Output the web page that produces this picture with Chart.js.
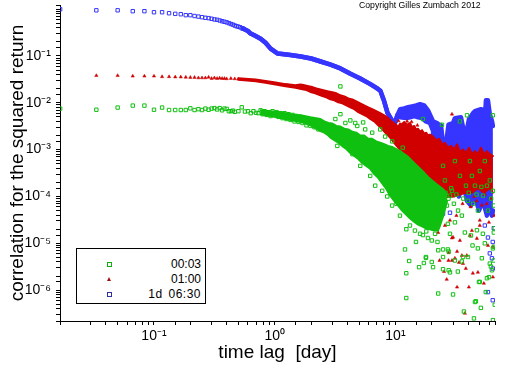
<!DOCTYPE html>
<html>
<head>
<meta charset="utf-8">
<script src="https://cdn.jsdelivr.net/npm/chart.js@4.4.1/dist/chart.umd.min.js"></script>
<style>
  body { margin: 0; background: #fff; }
  #wrap { position: relative; width: 512px; height: 366px; font-family: "Liberation Sans", Arial, sans-serif; }
  #copyright { position: absolute; left: 359px; top: 0px; font-size: 8.7px; color: #000; white-space: nowrap; }
  #legend { position: absolute; left: 76px; top: 248px; width: 128px; height: 54px; border: 1px solid #000; background: #fff; font-size: 12px; }
  #legend .row { position: absolute; left: 0; width: 124px; height: 15px; line-height: 15px; text-align: right; }
  #legend .mark { position: absolute; left: 30px; top: 5px; }
  .sq { width: 3px; height: 3px; border: 1px solid; }
  .tri { width: 0; height: 0; border-left: 2px solid transparent; border-right: 2px solid transparent; border-bottom: 4px solid #a01010; }
</style>
</head>
<body>
<div id="wrap">
  <canvas id="chart" width="512" height="366"></canvas>
  <div id="copyright">Copyright Gilles Zumbach 2012</div>
  <div id="legend">
    <div class="row" style="top:8px"><span class="mark sq" style="border-color:#10b010"></span>00:03</div>
    <div class="row" style="top:23px"><span class="mark tri"></span>01:00</div>
    <div class="row" style="top:38px; word-spacing:2px; letter-spacing:0.5px"><span class="mark sq" style="border-color:#3030a0"></span>1d 06:30</div>
  </div>
</div>
<script>
// axis ranges and tick labels
const xRange = [0.01665, 66.8];
const yRange = [2.2e-7, 1.22];
const xTickValues = [0.1, 1, 10];
const xTickLabels = ['10⁻¹', '10⁰', '10¹'];
const yTickValues = [1e-1, 1e-2, 1e-3, 1e-4, 1e-5, 1e-6];
const yTickLabels = ['10⁻¹', '10⁻²', '10⁻³', '10⁻⁴', '10⁻⁵', '10⁻⁶'];

// 00:03 (green squares), [lag in days, correlation]
const greenPoints = [
  [0.0167,0.0075],[0.0333,0.0071],[0.05,0.0079],[0.0667,0.0087],[0.0833,0.0087],[0.1,0.0071],
  [0.1167,0.0079],[0.1333,0.0070],[0.15,0.0070],[0.1667,0.0070],[0.1833,0.0070],[0.2,0.0076],
  [0.2167,0.0070],[0.2333,0.0073],[0.25,0.0070],[0.2667,0.0075],[0.2833,0.0071],[0.3,0.0075],
  [0.3167,0.0077],[0.3333,0.0072],[0.35,0.0077],[0.3667,0.0069],[0.3833,0.0075],[0.4,0.0074],
  [0.4167,0.0066],[0.4333,0.0066],[0.45,0.0068],[0.4667,0.0064],[0.5,0.0066],[0.5333,0.0080],
  [0.5667,0.0065],[0.6,0.0066],[0.6333,0.0060],[0.6667,0.0066],[0.7,0.0061],[0.7333,0.0060],
  [0.764,0.0069],[0.794,0.0057],[0.824,0.0066],[0.856,0.0055],[0.889,0.0063],[0.924,0.0052],
  [0.96,0.0066],[0.997,0.0055],[1.036,0.0063],[1.076,0.0050],[1.117,0.0060],[1.161,0.0047],
  [1.206,0.0060],[1.252,0.0045],[1.301,0.0057],[1.352,0.0043],[1.404,0.0055],[1.458,0.0040],
  [1.515,0.0052],[1.574,0.0039],[1.635,0.0050],[1.698,0.0037],[1.764,0.0047],[1.833,0.0033],
  [1.904,0.0045],[1.977,0.0032],[2.054,0.0043],[2.134,0.0030],[2.217,0.0039],[2.303,0.0027],
  [2.39,0.0037],
  [3.5,0.0223],[3.5,0.0057],[4.23,0.0042],[4.65,0.0037],[5.4,0.0038],[7.48,0.0027],[11.5,0.0011],
  [16.9,0.0045],[24.3,0.0034],[34.2,0.0040],[39.2,0.0054],[64,0.0054],[3.85,0.0037],[3.18,0.0045],
  [5.62,0.0027],[6.42,0.0023],[8.22,0.0019],[9.39,0.0015],[4.83,0.0032],
  [5.11,4.5e-4],[6.18,2.75e-4],[6.8,1.7e-4],[7.77,1.32e-4],[8.55,1.0e-4],[9.39,6.4e-5],
  [10.2,7e-5],[10.9,3.9e-5],[13.2,2.4e-5],[14.5,1.87e-5],
  [12.0,7.4e-6],[13.0,4.2e-6],[12.3,2.3e-6],[12.3,6.8e-7],[14.8,1.07e-5],[17.9,5.1e-6],
  [15.7,3.1e-6],[20.5,3.1e-6],[22.6,8.5e-7],[30,8.1e-7],[24.8,7.4e-6],[22.6,7.1e-6],
  [27.6,6.7e-6],[31.1,4.3e-6],[27.6,2.66e-6],[32.9,2.5e-6],[36.3,5.1e-6],[50,1.5e-6],
  [46.4,5.8e-7],[51,4.2e-7],[36.9,3.5e-7],[44.7,2.5e-7],[64.2,2.3e-7],[66.5,4.9e-7],
  [59.5,1.9e-6],[61.8,3.2e-6],[65.3,8.4e-6],[66.5,2.1e-5],[53,1.6e-5],[47.3,1.9e-5],
  [21.3,1.6e-5],[18.6,1.3e-5],[12.3,2e-5],[16,1.6e-5],[18.0,1.8e-5],[20,1.15e-5],
  [16.9,1.5e-5],[22.3,1.07e-5],[27.2,7.4e-6],[24.8,5.1e-6],[17.9,4.9e-6],[20,4e-6],
  [17.2,3.8e-6],[24.8,2.8e-6],[28.3,2.4e-6],[35.5,4.1e-6],[45.6,5.6e-7],[56,9.1e-7],
  [57.3,1.8e-6],[63,2.66e-6],[60.5,3.7e-6],[65.3,4.3e-6],[64.2,7.8e-6],[65.3,1.7e-5],
  [55,1e-5],[49.2,1.5e-6],[52,4.8e-6],[39.9,5.1e-6],[48.2,7.8e-6],[43.5,9e-6],
  [42.2,1.47e-5],[37.6,1.7e-5],[28.3,1.6e-5],[31.1,2.8e-5],[27.2,2.6e-5],
  [25.7,2.2e-4],[29.4,1.32e-4],[34.2,2.75e-4],[39.9,8.1e-5],[45.6,1.7e-4],[53.1,1.04e-4],
  [60.5,2.2e-4],[26.7,6.4e-5],[33.0,5e-5],[38.4,1.7e-4],[50,3.5e-4],[58.4,5e-5],
  [64.2,1.32e-4],[24.8,4.5e-4],[41.4,5.7e-4],[55,5.7e-4],[31.1,5.7e-4],[35.5,3.9e-5],
  [48.2,5e-5],[65.3,6.4e-5],[28.3,1.04e-4],[43,2.75e-4],[57.3,1.7e-4],
  [3.3,0.0012],[4.4,0.0008],[5.8,0.00055],[7.0,0.00036],[8.0,0.00021],[9.0,0.00016],
  [10.5,0.000085],[11.6,0.000062],[12.6,0.000052],[19.0,0.000028],[21.0,0.000026],
  [26,0.00012],[27.5,0.00009],[29,0.00015],[30.5,0.00007],[32,0.00011],[25,0.00006],
  [36.5,0.00009],[40.5,0.00012],[44,0.00007],[47,0.00011],[51.5,0.00016],[62,0.00009]
];
// 00:03 dense cloud: upper and lower edge
const greenUpper = [
  [0.764,0.0069],[0.924,0.0066],[1.117,0.0063],[1.352,0.0057],[1.635,0.0054],[1.977,0.0049],
  [2.39,0.0045],[2.579,0.0040],[2.783,0.0037],[3.003,0.0036],[3.24,0.0032],[3.5,0.0031],
  [3.773,0.0028],[4.07,0.0027],[4.394,0.0024],[4.742,0.0023],[5.11,0.0020],[5.51,0.0020],
  [5.95,0.0017],[6.42,0.0017],[6.93,0.0015],[7.48,0.0014],[8.07,0.0013],[8.71,0.0012],
  [9.39,0.00114],[10.14,0.00103],[10.94,0.00093],[11.8,0.000805],[12.74,0.0007],[13.74,0.00057],
  [14.83,0.00047],[16.0,0.00039],[17.3,0.00032],[18.6,0.00026],[20.1,0.00022],[21.7,0.000186],
  [23.4,0.00016],[25.0,0.00014],[26.8,0.00011]
];
const greenLower = [
  [0.764,0.0057],[0.924,0.0052],[1.117,0.0047],[1.352,0.0043],[1.635,0.0039],[1.977,0.0033],
  [2.39,0.0025],[2.579,0.0023],[2.783,0.0020],[2.89,0.0018],[3.119,0.0016],[3.366,0.0014],
  [3.632,0.00119],[3.92,0.00103],[4.23,0.00085],[4.565,0.00073],[4.926,0.00063],[5.31,0.00052],
  [5.73,0.00045],[6.18,0.00039],[6.67,0.00030],[7.2,0.00025],[7.77,0.00019],[8.38,0.000146],
  [9.04,0.000104],[9.76,0.000081],[10.53,0.000064],[11.36,0.00005],[12.26,0.000041],[13.23,0.000034],
  [14.28,0.000029],[15.41,0.000025],[16.6,0.000023],[17.9,0.000021],[19.3,0.00002],[20.9,0.0000187],
  [22.5,0.0000187],[23.4,0.000024],[25.0,0.00004],[26.8,0.00008]
];

// 01:00 (red triangles)
const redPoints = [
  [0.0333,0.038],[0.05,0.038],[0.0667,0.037],[0.0833,0.037],[0.1,0.037],[0.1167,0.036],
  [0.1333,0.036],[0.15,0.0355],[0.1667,0.0355],[0.1833,0.035],[0.2,0.0347],[0.2167,0.0347],
  [0.2333,0.034],[0.25,0.034],[0.2667,0.034],[0.2833,0.035],[0.3,0.033],[0.3167,0.034],
  [0.3333,0.033],[0.35,0.0335],[0.3667,0.033],[0.3833,0.033],[0.4,0.0325],[0.4333,0.033],
  [0.4667,0.0325],[0.5,0.032],
  [11.4,0.0035],[12.5,0.004],[29.4,0.0057],[10.6,0.0041],[13.6,0.0039],[15.2,0.0033],
  [22.6,1.7e-5],[25.3,2.5e-6],[26.6,1.7e-6],[27.6,6.3e-6],[29.4,1.3e-5],[29.4,4.3e-6],
  [31.1,4.8e-6],[32.4,6.7e-6],[32.4,1.16e-6],[33.6,3.9e-6],[34.2,1.15e-5],[35.5,5.5e-6],
  [36.3,3.7e-6],[37.6,3.2e-7],[38.3,2.9e-6],[39.0,5.5e-6],[40.6,1.16e-6],[41.4,1.47e-5],
  [43.0,1.87e-5],[43.8,2.3e-6],[47.3,1.27e-5],[48.2,2.4e-6],[50.0,2.4e-5],[54.0,1.4e-6],
  [58.4,9e-6],[64.2,8.5e-6],[64.2,1.9e-6],[30,1.35e-5],[23.2,4.3e-6],[27.5,4.3e-6],
  [25.7,2.4e-5],[22.0,3.9e-5],[28.3,3.1e-5],[32.0,3.9e-5],[50,3.1e-5],[59.5,2.8e-5],[66,3.9e-5],
  [36,7e-5],[42,6e-5],[47,8e-5],[52,6.5e-5],[57,7e-5],[62,9e-5],[45,1e-4],[55,1.1e-4]
];
// 01:00 dense band: upper and lower edge
const redUpper = [
  [0.5,0.0332],[0.695,0.0312],[0.84,0.0292],[1.016,0.027],[1.229,0.025],[1.486,0.0236],
  [1.635,0.0246],[1.764,0.0236],[1.904,0.0226],[2.054,0.0216],[2.217,0.0202],[2.39,0.0193],
  [2.579,0.0184],[2.783,0.0175],[3.003,0.0167],[3.24,0.0159],[3.5,0.0144],[3.773,0.0137],
  [4.07,0.0124],[4.394,0.0118],[4.742,0.0107],[5.11,0.0097],[5.51,0.0088],[5.95,0.008],
  [6.42,0.0073],[6.93,0.0066],[7.48,0.006],[8.07,0.0054],[8.71,0.0047],[9.39,0.0039],
  [10.14,0.0034],[10.53,0.0030],[10.94,0.0036],[11.4,0.0033],[11.8,0.0039],[12.5,0.0034],
  [13.2,0.0037],[13.74,0.0030],[14.3,0.0032],[14.83,0.0027],[15.4,0.0028],[16.0,0.0024],
  [16.6,0.0026],[17.3,0.0022],[18.0,0.0023],[18.6,0.0020],[19.3,0.0021],[20.5,0.0019],
  [21.7,0.0016],[23.0,0.0017],[24.3,0.0013],[25.7,0.0014],[27.2,0.0011],[28.9,0.0012],
  [30.6,0.0010],[32.4,0.0013],[34.2,0.0009],[36.3,0.001],[38.4,0.00085],[40.7,0.0011],
  [43.0,0.0008],[45.6,0.00093],[48.2,0.0008],[51.1,0.0011],[54.1,0.0008],[57.3,0.00093],
  [60.5,0.0008],[64.2,0.00073]
];
const redLower = [
  [0.5,0.0308],[0.695,0.0288],[0.84,0.0268],[1.016,0.0246],[1.229,0.0226],[1.486,0.0208],
  [1.698,0.0193],[1.833,0.0186],[1.977,0.0170],[2.134,0.0161],[2.303,0.0150],[2.483,0.0139],
  [2.679,0.013],[2.89,0.0118],[3.119,0.0113],[3.366,0.0102],[3.632,0.0097],[3.92,0.0088],
  [4.23,0.008],[4.565,0.0073],[4.926,0.0063],[5.31,0.0057],[5.73,0.0052],[6.18,0.0045],
  [6.67,0.004],[7.2,0.0033],[7.77,0.0027],[8.38,0.0022],[9.04,0.0018],[9.76,0.0014],
  [10.53,0.0011],[11.36,0.00093],[12.26,0.00073],[13.23,0.00057],[14.28,0.00043],[15.41,0.00032],
  [16.6,0.00024],[17.9,0.0002],[19.3,0.00017],[21.7,0.000132],[24.3,0.000114],[27.2,0.000097],
  [30.6,0.0001],[34.2,0.00011],[38.4,0.00012],[43.0,0.00012],[48.2,0.00015],[54.1,0.00012],
  [60.5,0.00015],[64.2,0.00012]
];

// 1d 06:30 (blue squares)
const bluePoints = [
  [0.0167,0.99],[0.0333,0.94],[0.05,0.94],[0.0667,0.90],[0.0833,0.90],[0.1,0.855],
  [0.1167,0.855],[0.1333,0.815],[0.15,0.79],[0.1667,0.775],[0.1833,0.74],[0.2,0.74],
  [0.2167,0.71],[0.2333,0.69],[0.25,0.67],[0.2667,0.65],[0.2833,0.64],[0.3,0.62],
  [0.3167,0.60],[0.3333,0.59],[0.35,0.57],[0.3667,0.55],[0.3833,0.535],[0.4,0.52],
  [0.4167,0.50],[0.4333,0.48],[0.45,0.465],[0.4667,0.445],[0.4833,0.43],[0.5,0.42],
  [0.5167,0.41],[0.5333,0.39],[0.55,0.38],
  [21.8,5.8e-5],[24.8,4.3e-5],[28.3,4.5e-5],[35.6,1.86e-4],[58.4,1.33e-5],[64,1.07e-5],
  [63,4.8e-6],[60.5,6.1e-6],[64,2.9e-6],[58.4,9.1e-7],[64,6.1e-7],[55,2.4e-5],[65.3,2.1e-5]
];
// 1d 06:30 dense band: upper and lower edge
const blueUpper = [
  [0.55,0.38],[0.6,0.34],[0.632,0.30],[0.695,0.265],[0.764,0.232],[0.84,0.19],[0.924,0.143],
  [1.06,0.112],[1.35,0.104],[1.64,0.097],[2.0,0.088],[2.4,0.076],[2.9,0.065],[3.5,0.054],
  [4.2,0.042],[5.1,0.033],[6.2,0.025],[7.0,0.0205],[7.5,0.018],[8.0,0.0115],[8.6,0.0061],
  [9.3,0.0043],[9.9,0.0037],[10.4,0.0055],[10.94,0.0073],[11.8,0.0076],[12.74,0.0080],
  [13.74,0.0084],[14.83,0.0088],[16.0,0.0093],[17.3,0.0088],[18.6,0.0069],[20.5,0.0040],
  [22.1,0.0037],[23.0,0.0034],[23.85,0.0033],[24.6,0.0016],[25.7,0.0011],[26.5,0.0016],
  [27.5,0.0034],[29.98,0.0037],[31.1,0.0047],[34.9,0.0049],[36.3,0.0030],[38.4,0.0021],
  [40.7,0.0045],[43.9,0.0060],[45.6,0.0066],[51.1,0.0073],[53.1,0.0070],[54.6,0.0032],
  [56.2,0.0113],[58.4,0.0113],[60.5,0.0057],[63,0.0041],[64.2,0.0032]
];
const blueLower = [
  [0.55,0.38],[0.6,0.34],[0.632,0.30],[0.695,0.265],[0.764,0.232],[0.84,0.19],[0.924,0.143],
  [1.06,0.112],[1.35,0.104],[1.64,0.097],[2.0,0.088],[2.4,0.076],[2.9,0.065],[3.5,0.054],
  [4.2,0.042],[5.1,0.033],[6.2,0.025],[7.0,0.0205],[7.5,0.018],[8.0,0.0115],[8.6,0.0061],
  [9.3,0.0043],[9.9,0.0037],[10.4,0.0055],[10.94,0.0049],[12.26,0.0047],[13.23,0.0049],
  [14.28,0.0052],[15.41,0.0049],[16.6,0.0047],[17.9,0.0040],[19.3,0.0037],[20.5,0.0025],
  [21.3,2.75e-4],[23,1.7e-4],[25,3.5e-4],[27,2.2e-4],[29,1.3e-4],[31.1,2.75e-4],
  [33.6,1.0e-4],[36.3,2.2e-4],[39.1,8.1e-5],[42.2,6.4e-5],[45.6,1.0e-4],[49.2,5e-5],
  [53.1,8.1e-5],[57.3,3.9e-5],[59.5,6.4e-5],[63.0,3.9e-5],[64.2,5e-5]
];

const green = '#10c010';
const red = '#d00000';
const blue = '#3535ff';
const family = '"Liberation Sans", Arial, sans-serif';

const toXY = (pts) => pts.map(([x, y]) => ({ x, y }));

function tickLabel(values, labels) {
  return (v) => {
    const i = values.findIndex((t) => Math.abs(Math.log10(v) - Math.log10(t)) < 1e-6);
    return i < 0 ? '' : labels[i];
  };
}

function markers(data, color, style, radius, filled) {
  return {
    data: toXY(data), showLine: false, pointStyle: style, pointRadius: radius,
    pointBorderWidth: filled ? 0.5 : 1, borderColor: color,
    backgroundColor: filled ? color : 'rgba(0,0,0,0)'
  };
}

// edge of a dense band; the upper edge fills down to the next dataset
function edge(data, color, width, fillDown) {
  return {
    data: toXY(data), showLine: true, pointRadius: 0, borderColor: color,
    backgroundColor: color, fill: fillDown ? '+1' : false,
    borderWidth: width, borderJoinStyle: 'round', borderCapStyle: 'round', tension: 0
  };
}

const axisBase = {
  type: 'logarithmic',
  border: { display: true, color: '#000', width: 1 },
  grid: { drawOnChartArea: false, drawTicks: true, tickLength: 4, color: '#000' }
};

// empty tick labels still reserve room at the axis ends; drop that
function noEndPadding(s) {
  s.paddingTop = 0; s.paddingBottom = 0; s.paddingLeft = 0; s.paddingRight = 0;
}

new Chart(document.getElementById('chart'), {
  type: 'scatter',
  data: {
    datasets: [
      markers(greenPoints, green, 'rect', 2.4, false),
      edge(greenUpper, green, 2, true),
      edge(greenLower, green, 2, false),
      markers(redPoints, red, 'triangle', 1.9, true),
      edge(redUpper, red, 2, true),
      edge(redLower, red, 2, false),
      markers(bluePoints, blue, 'rect', 2.4, false),
      edge(blueUpper, blue, 4.5, true),
      edge(blueLower, blue, 4.5, false)
    ]
  },
  options: {
    responsive: false,
    animation: false,
    layout: { padding: { top: 3, right: 17, left: 0, bottom: 0 } },
    plugins: { legend: { display: false }, tooltip: { enabled: false }, filler: { propagate: false } },
    scales: {
      x: {
        ...axisBase,
        position: 'bottom',
        min: xRange[0], max: xRange[1],
        afterFit: (s) => { s.height = 45; noEndPadding(s); },
        ticks: { autoSkip: false, maxRotation: 0, padding: 3, color: '#000',
                 font: { size: 14, family }, callback: tickLabel(xTickValues, xTickLabels) },
        title: { display: true, text: 'time lag  [day]', color: '#000',
                 font: { size: 19, family }, padding: { top: 0, bottom: 2 } }
      },
      y: {
        ...axisBase,
        position: 'left',
        min: yRange[0], max: yRange[1],
        afterFit: (s) => { s.width = 60; noEndPadding(s); },
        ticks: { autoSkip: false, padding: 5, color: '#000',
                 font: { size: 14, family }, callback: tickLabel(yTickValues, yTickLabels) },
        title: { display: true, text: 'correlation for the squared return', color: '#000',
                 font: { size: 19, family }, padding: { top: 6, bottom: 0 } }
      }
    }
  }
});
</script>
</body>
</html>
